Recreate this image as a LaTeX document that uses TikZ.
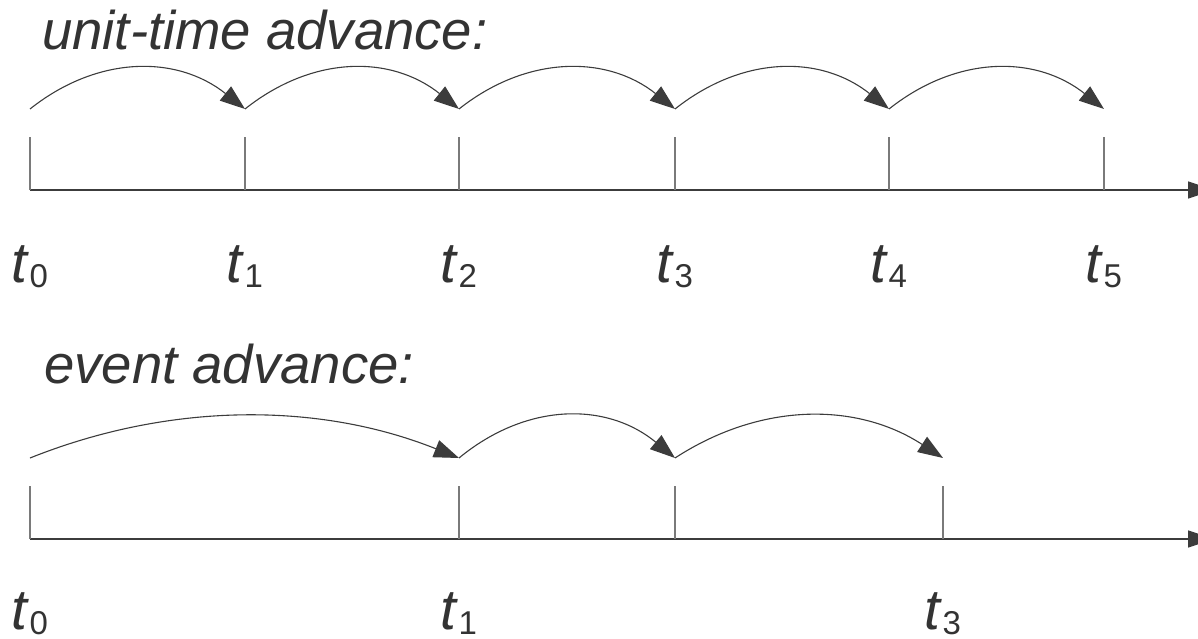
\documentclass[tikz,border=0pt]{standalone}
\usepackage{fontspec}
\setmainfont{Liberation Sans}
\usetikzlibrary{arrows.meta,calc}
\definecolor{axisgray}{HTML}{3C3C3C}
\definecolor{tickgray}{HTML}{7A7A7A}
\definecolor{textgray}{HTML}{333333}
\newcommand\tlab[1]{\textit{t}\raisebox{-5pt}{\fontsize{33}{33}\selectfont #1}}
\begin{document}
\begin{tikzpicture}[x=1pt,y=-1pt,
  axisline/.style={draw=axisgray,line width=1.6pt,-{Triangle[length=26pt,width=17pt]}},
  tickline/.style={draw=tickgray,line width=1.3pt},
  hop/.style={draw=axisgray,line width=1.1pt,-{Triangle[length=25pt,width=18pt]}},
  lbl/.style={anchor=base,inner sep=0pt,text=textgray,font=\fontsize{57}{57}\selectfont},
  ttl/.style={anchor=base west,inner sep=0pt,text=textgray,font=\fontsize{54.5}{54.5}\selectfont\itshape}]
\useasboundingbox (0,0) rectangle (1198,639);

% ---------- top: unit-time advance ----------
\node[ttl] (ttop) at (42,50) {unit-time advance:};
\coordinate (aS) at (30,190);
\coordinate (aE) at (1214,190);
\draw[axisline] (aS) -- (aE);
\foreach \i/\x in {0/30,1/245,2/459,3/675,4/889,5/1104}{
  \coordinate (tb\i) at (\x,190);
  \coordinate (tt\i) at (\x,137);
  \coordinate (h\i) at (\x,109);
  \draw[tickline] (tb\i) -- (tt\i);
  \node[lbl] (l\i) at (\x,282) {\tlab{\i}};
}
\foreach \i/\j in {0/1,1/2,2/3,3/4,4/5}{
  \draw[hop] (h\i) .. controls ($(h\i)+(68,-54)$) and ($(h\j)+(-68,-54)$) .. (h\j);
}

% ---------- bottom: event advance ----------
\node[ttl] (tbot) at (44,383) {event advance:};
\coordinate (bS) at (30,539);
\coordinate (bE) at (1214,539);
\draw[axisline] (bS) -- (bE);
\foreach \i/\x in {0/30,1/459,2/675,3/943}{
  \coordinate (ub\i) at (\x,539);
  \coordinate (ut\i) at (\x,486);
  \coordinate (g\i) at (\x,458);
  \draw[tickline] (ub\i) -- (ut\i);
}
\node[lbl] (m0) at (30,629) {\tlab{0}};
\node[lbl] (m1) at (459,629) {\tlab{1}};
\node[lbl] (m3) at (943,629) {\tlab{3}};
\draw[hop] (g0) .. controls ($(g0)+(140,-56)$) and ($(g1)+(-140,-56)$) .. (g1);
\draw[hop] (g1) .. controls ($(g1)+(68,-56)$) and ($(g2)+(-68,-56)$) .. (g2);
\draw[hop] (g2) .. controls ($(g2)+(86,-56)$) and ($(g3)+(-86,-56)$) .. (g3);
\end{tikzpicture}
\end{document}
